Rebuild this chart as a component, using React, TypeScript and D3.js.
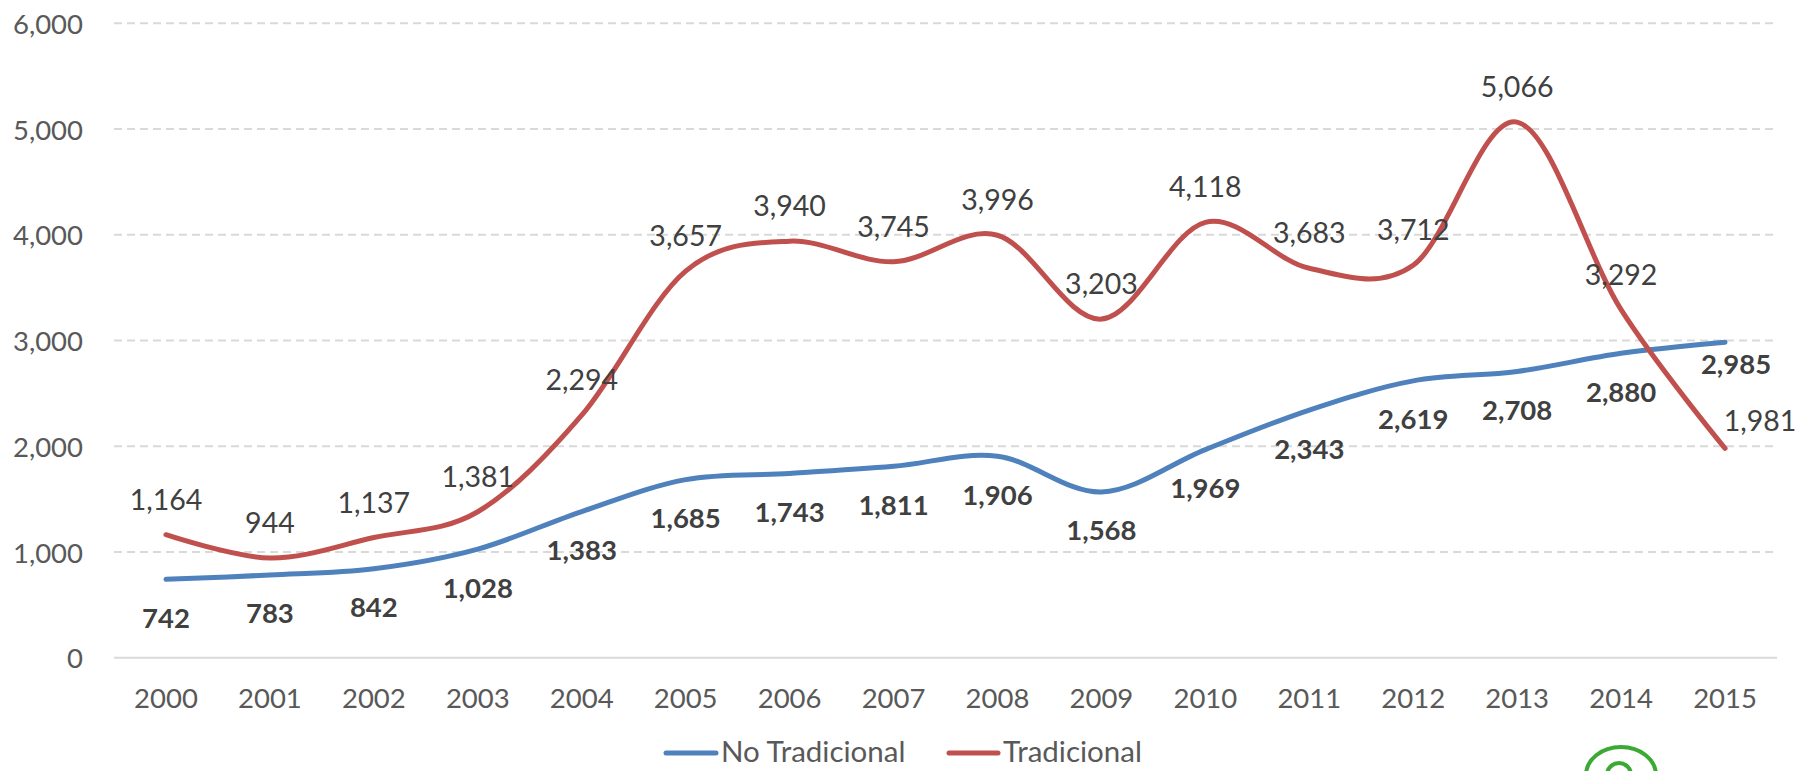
import React from "react";
import * as d3 from "d3";

const years = ["2000","2001","2002","2003","2004","2005","2006","2007","2008","2009","2010","2011","2012","2013","2014","2015"];
const noTradicional = [742, 783, 842, 1028, 1383, 1685, 1743, 1811, 1906, 1568, 1969, 2343, 2619, 2708, 2880, 2985];
const tradicional = [1164, 944, 1137, 1381, 2294, 3657, 3940, 3745, 3996, 3203, 4118, 3683, 3712, 5066, 3292, 1981];
const yTicks = [0, 1000, 2000, 3000, 4000, 5000, 6000];
const seriesNames = ["No Tradicional", "Tradicional"];

const W = 1800;
const H = 771;
const FONT = "Lato, 'Open Sans', sans-serif";
const BLUE = "#4F81BD";
const RED = "#C0504D";

// manual label nudges (layout only)
const tradOffsets: Record<number, [number, number]> = { 15: [35, 8] };
const noTradOffsets: Record<number, [number, number]> = { 15: [11, -17] };

export default function App() {
  const x = d3.scalePoint<string>().domain(years).range([114, 1777]).padding(0.5);
  const y = d3.scaleLinear().domain([0, 6000]).range([657.8, 23.3]);
  const fmt = d3.format(",");

  const line = d3
    .line<number>()
    .x((_, i) => x(years[i]) as number)
    .y((d) => y(d))
    .curve(d3.curveCardinal.tension(0));

  return (
    <svg
      width={W}
      height={H}
      style={{ position: "absolute", left: 0, top: 0, background: "#fff" }}
      fontFamily={FONT}
    >
      <rect x={0} y={0} width={W} height={H} fill="#fff" />
      {/* gridlines */}
      {yTicks.map((t) => (
        <line
          key={"g" + t}
          x1={114}
          x2={1777}
          y1={y(t)}
          y2={y(t)}
          stroke="#d9d9d9"
          strokeWidth={2}
          strokeDasharray={t === 0 ? undefined : "8,5"}
        />
      ))}
      {/* y tick labels */}
      {yTicks.map((t) => (
        <text
          key={"yl" + t}
          x={83}
          y={y(t)}
          textAnchor="end"
          dominantBaseline="central"
          fontSize={27.5}
          fill="#595959"
        >
          {fmt(t)}
        </text>
      ))}
      {/* x tick labels */}
      {years.map((yr) => (
        <text
          key={"xl" + yr}
          x={x(yr)}
          y={697}
          textAnchor="middle"
          dominantBaseline="central"
          fontSize={27.5}
          fill="#595959"
        >
          {yr}
        </text>
      ))}
      {/* lines */}
      <path d={line(noTradicional) || ""} fill="none" stroke={BLUE} strokeWidth={5} strokeLinecap="round" strokeLinejoin="round" />
      <path d={line(tradicional) || ""} fill="none" stroke={RED} strokeWidth={5} strokeLinecap="round" strokeLinejoin="round" />
      {/* data labels */}
      {tradicional.map((v, i) => {
        const o = tradOffsets[i] || [0, 0];
        return (
          <text
            key={"tl" + i}
            x={(x(years[i]) as number) + o[0]}
            y={y(v) - 36 + o[1]}
            textAnchor="middle"
            dominantBaseline="central"
            fontSize={28.5}
            fill="#404040"
          >
            {fmt(v)}
          </text>
        );
      })}
      {noTradicional.map((v, i) => {
        const o = noTradOffsets[i] || [0, 0];
        return (
          <text
            key={"nl" + i}
            x={(x(years[i]) as number) + o[0]}
            y={y(v) + 38 + o[1]}
            textAnchor="middle"
            dominantBaseline="central"
            fontSize={27.5}
            fontWeight="bold"
            fill="#404040"
          >
            {fmt(v)}
          </text>
        );
      })}
      {/* legend */}
      <g>
        <line x1={666} x2={716} y1={753} y2={753} stroke={BLUE} strokeWidth={5} strokeLinecap="round" />
        <text x={721} y={750} dominantBaseline="central" fontSize={29.5} fill="#595959">
          {seriesNames[0]}
        </text>
        <line x1={949} x2={998} y1={753} y2={753} stroke={RED} strokeWidth={5} strokeLinecap="round" />
        <text x={1003} y={750} dominantBaseline="central" fontSize={29.5} fill="#595959">
          {seriesNames[1]}
        </text>
      </g>
      {/* logo (partially visible) */}
      <g fill="none" stroke="#3aaa35" strokeWidth={4}>
        <path d="M1586,775 A35,28 0 0 1 1656,775" />
        <path d="M1607,775 A12,12 0 0 1 1631,775" />
      </g>
    </svg>
  );
}
